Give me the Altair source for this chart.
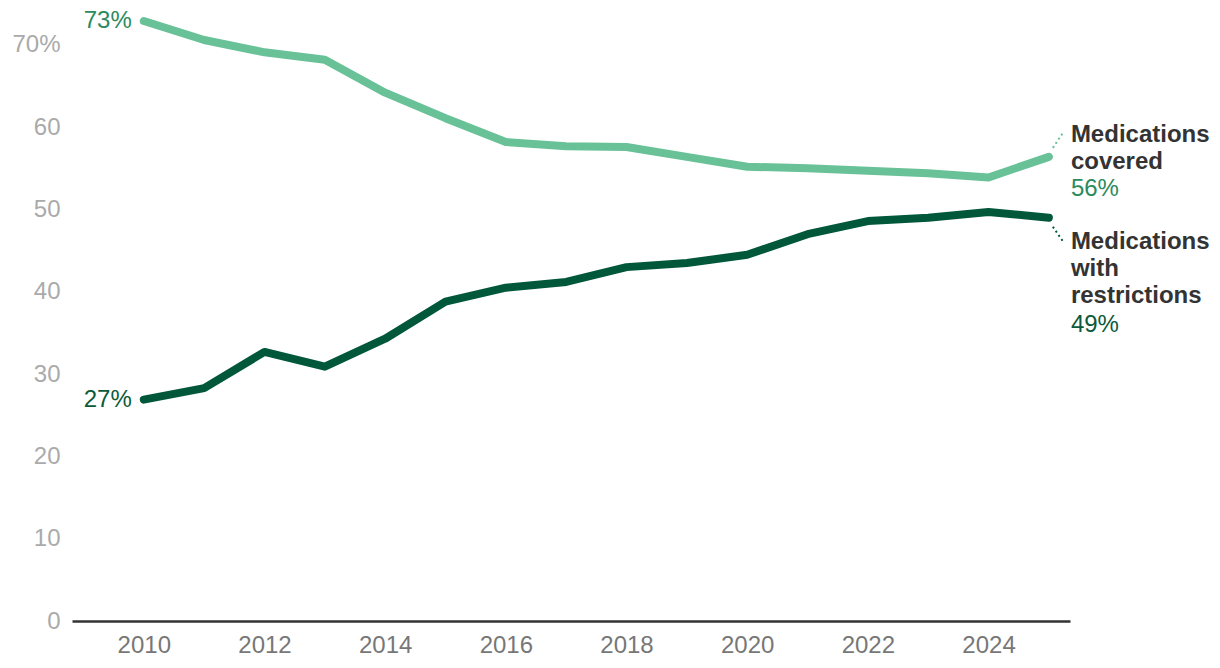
import altair as alt
import pandas as pd

years = list(range(2010, 2026))
covered = [72.9, 70.6, 69.1, 68.2, 64.2, 61.1, 58.2, 57.7, 57.6, 56.4, 55.2, 55.0, 54.7, 54.4, 53.9, 56.4]
restricted = [26.9, 28.3, 32.7, 30.9, 34.3, 38.8, 40.5, 41.2, 43.0, 43.5, 44.5, 47.0, 48.6, 49.0, 49.7, 49.0]
series_names = ["Medications covered", "Medications with restrictions"]
start_labels = ["73%", "27%"]
end_labels = ["56%", "49%"]
name_lines = ["Medications\ncovered", "Medications\nwith\nrestrictions"]

LIGHT = "#68c197"
DARK = "#00573a"
LIGHT_TXT = "#2b8a5e"
DARK_TXT = "#0b5a3a"
FONT = "Liberation Sans"
FS = 24

rows = []
for y, c, r in zip(years, covered, restricted):
    rows.append({"year": y, "value": c, "series": series_names[0]})
    rows.append({"year": y, "value": r, "series": series_names[1]})
df = pd.DataFrame(rows)

first = pd.DataFrame({
    "year": [years[0], years[0]],
    "value": [covered[0], restricted[0]],
    "series": series_names,
    "label": start_labels,
})
last = pd.DataFrame({
    "year": [years[-1], years[-1]],
    "value": [covered[-1], restricted[-1]],
    "series": series_names,
    "label": end_labels,
    "name": name_lines,
})
first_cov = first[first.series == series_names[0]]
first_res = first[first.series == series_names[1]]
last_cov = last[last.series == series_names[0]]
last_res = last[last.series == series_names[1]]

xscale = alt.Scale(domain=[2008.81, 2025.35], nice=False, zero=False)
yscale = alt.Scale(domain=[0, 74], nice=False)
color = alt.Color("series:N", scale=alt.Scale(domain=series_names, range=[LIGHT, DARK]), legend=None)

base_x = alt.X("year:Q", scale=xscale,
               axis=alt.Axis(values=list(range(2010, 2026, 2)), format="d", title=None,
                             grid=False, ticks=False, domain=True, domainColor="#333333",
                             domainWidth=2.5, labelColor="#777777", labelFont=FONT,
                             labelFontSize=FS, labelPadding=12))
base_y = alt.Y("value:Q", scale=yscale,
               axis=alt.Axis(values=[0, 10, 20, 30, 40, 50, 60, 70], title=None, grid=False,
                             ticks=False, domain=False, labelColor="#aaaaaa", labelFont=FONT,
                             labelFontSize=FS, labelPadding=12,
                             labelExpr="datum.value == 70 ? '70%' : datum.label"))

X = alt.X("year:Q", scale=xscale)
Y = alt.Y("value:Q", scale=yscale)

lines = alt.Chart(df).mark_line(strokeWidth=8, strokeCap="round", strokeJoin="round").encode(
    x=base_x, y=base_y, color=color, detail="series:N")

start_cov = alt.Chart(first_cov).mark_text(align="right", baseline="middle", dx=-12, font=FONT,
                                            fontSize=FS, color=LIGHT_TXT).encode(x=X, y=Y, text="label:N")
start_res = alt.Chart(first_res).mark_text(align="right", baseline="middle", dx=-12, font=FONT,
                                            fontSize=FS, color=DARK_TXT).encode(x=X, y=Y, text="label:N")

conn_cov = alt.Chart(last_cov).mark_rule(
    strokeWidth=2, strokeDash=[2, 3], color=LIGHT,
    xOffset=4, x2Offset=14, yOffset=-9, y2Offset=-24).encode(
    x=X, x2="year:Q", y=Y, y2="value:Q")
conn_res = alt.Chart(last_res).mark_rule(
    strokeWidth=2, strokeDash=[2, 3], color=DARK,
    xOffset=4, x2Offset=15, yOffset=9, y2Offset=25).encode(
    x=X, x2="year:Q", y=Y, y2="value:Q")

name_cov = alt.Chart(last_cov).mark_text(
    align="left", baseline="middle", dx=22, dy=-22, font=FONT, fontSize=FS, fontWeight="bold",
    color="#333333", lineBreak="\n", lineHeight=27).encode(x=X, y=Y, text="name:N")
pct_cov = alt.Chart(last_cov).mark_text(
    align="left", baseline="middle", dx=22, dy=32, font=FONT, fontSize=FS, color=LIGHT_TXT).encode(
    x=X, y=Y, text="label:N")
name_res = alt.Chart(last_res).mark_text(
    align="left", baseline="middle", dx=22, dy=24, font=FONT, fontSize=FS, fontWeight="bold",
    color="#333333", lineBreak="\n", lineHeight=27).encode(x=X, y=Y, text="name:N")
pct_res = alt.Chart(last_res).mark_text(
    align="left", baseline="middle", dx=22, dy=107, font=FONT, fontSize=FS, color=DARK_TXT).encode(
    x=X, y=Y, text="label:N")

chart = alt.layer(lines, start_cov, start_res, conn_cov, conn_res, name_cov, pct_cov, name_res, pct_res).properties(
    width=998, height=609,
    autosize=alt.AutoSizeParams(type="none"),
    padding={"left": 64, "top": 4, "right": 142, "bottom": 39},
    background="white",
).configure_view(stroke=None)

chart.save("out.html", embed_options={"renderer": "svg", "actions": False})
